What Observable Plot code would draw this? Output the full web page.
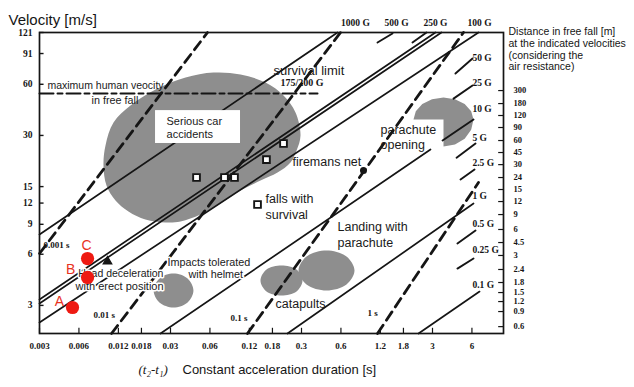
<!DOCTYPE html>
<html><head><meta charset="utf-8">
<script src="https://cdn.jsdelivr.net/npm/d3@7"></script>
<script src="https://cdn.jsdelivr.net/npm/@observablehq/plot@0.6"></script>
<style>html,body{margin:0;padding:0;background:#fff;}</style>
</head><body><div id="chart"></div>
<script>
// ---- axes ----
const xTicks = [0.003, 0.006, 0.012, 0.018, 0.03, 0.06, 0.12, 0.18, 0.3, 0.6, 1.2, 1.8, 3, 6];
const yTicks = [3, 6, 9, 12, 15, 30, 60, 91, 121];
const distLabels = ["300","180","120","90","60","45","30","24","15","12","9","6","4.5","3","2.4","1.8","1.5","1.2","0.9","0.6"];
const distVelocity = [55.1,46.2,39.3,33.4,28.0,23.8,20.2,16.96,14.42,12.25,10.27,8.39,7.03,5.90,4.88,4.09,3.57,3.16,2.76,2.25];

// ---- lines (duration s, velocity m/s) ----
const accelLines = [
  {name:"a1", t1:0.003, v1:7.84, t2:0.565, v2:121},
  {name:"a2", t1:0.003, v1:3.25, t2:3.16, v2:121},
  {name:"a3", t1:0.003, v1:3.08, t2:3.51, v2:121},
  {name:"a4", t1:0.003, v1:2.38, t2:6.73, v2:121},
  {name:"a5", t1:0.02516, v1:2.05, t2:2.896, v2:24.8},
  {name:"a6", t1:0.2345, v1:2.05, t2:6.17, v2:11.93},
  {name:"a7", t1:2.346, v1:2.05, t2:6.86, v2:3.62}
];
const leaderLines = [
  {name:"500 G", t1:1.141, v1:105.6, t2:1.485, v2:119.3},
  {name:"250 G", t1:2.11, v1:105.6, t2:2.70, v2:121},
  {name:"50 G", t1:4.49, v1:69.4, t2:6.06, v2:85.0},
  {name:"25 G", t1:4.34, v1:49.4, t2:6.06, v2:59.0},
  {name:"10 G", t1:3.58, v1:28.0, t2:6.17, v2:37.2},
  {name:"5 G", t1:4.58, v1:22.2, t2:6.39, v2:26.9},
  {name:"2.5 G", t1:4.91, v1:16.5, t2:6.28, v2:18.9},
  {name:"0.5 G", t1:4.65, v1:6.94, t2:6.39, v2:8.27},
  {name:"0.25 G", t1:4.65, v1:4.94, t2:6.17, v2:5.66}
];
const durationLines = [
  {name:"0.001 s", t1:0.003, v1:6.06, t2:0.0575, v2:121},
  {name:"0.01 s", t1:0.01064, v1:2.05, t2:0.5955, v2:121},
  {name:"0.1 s", t1:0.1161, v1:2.05, t2:5.17, v2:121},
  {name:"1 s", t1:1.141, v1:2.05, t2:6.73, v2:15.85}
];
const freeFallLimit = [{t:0.003, v:52.9}, {t:0.3975, v:52.9}];

// ---- shaded zones (outlines) ----
const carBlob = [[0.0639,70.3],[0.1027,68.5],[0.1593,61.4],[0.2187,51.5],[0.270,40.9],[0.2948,30.0],[0.275,24.45],[0.2472,20.8],[0.1968,18.15],[0.1459,16.28],[0.1027,14.22],[0.0722,11.93],[0.0508,10.27],[0.0358,9.34],[0.0275,9.22],[0.0193,9.60],[0.01433,10.7],[0.01141,12.42],[0.00974,15.2],[0.00924,19.95],[0.00957,26.2],[0.01102,35.7],[0.01485,45.0],[0.02388,56.6],[0.0391,65.7]];
const parachuteBlob = [[2.148,37.2],[2.237,41.7],[2.508,45.96],[2.974,48.97],[3.64,50.1],[4.455,48.97],[5.283,45.96],[5.92,41.7],[6.17,37.2],[5.92,32.4],[5.283,28.7],[4.455,26.5],[3.64,25.8],[3.64,37.2]];
const helmetBlob = [[0.0449,3.67],[0.0405,4.32],[0.0316,4.62],[0.0247,4.32],[0.0223,3.67],[0.0247,3.12],[0.0316,2.915],[0.0405,3.12]];
const catapultBlobA = [[0.3053,4.20],[0.2748,4.88],[0.2111,5.15],[0.1622,4.88],[0.1459,4.20],[0.1622,3.62],[0.2111,3.43],[0.2748,3.62]];
const catapultBlobB = [[0.7617,4.81],[0.6616,5.82],[0.4655,6.31],[0.3276,5.82],[0.2846,4.81],[0.3276,3.98],[0.4655,3.67],[0.6616,3.98]];
const carBox = [{t1:0.02306, t2:0.1027, v1:26.9, v2:42.0}];

// ---- points ----
const fallPoints = [{t:0.0474,v:16.96},{t:0.0775,v:16.96},{t:0.0924,v:16.96},{t:0.162,v:21.6},{t:0.2187,v:26.9},{t:0.1385,v:11.77}];
const trianglePoint = [{t:0.00991, v:5.44}];
const netPoint = [{t:0.892, v:18.65}];
const subjects = [{name:"A", t:0.00536, v:2.915, lt:0.00426, lv:3.16},{name:"B", t:0.00698, v:4.38, lt:0.00518, lv:4.88},{name:"C", t:0.00698, v:5.66, lt:0.00687, lv:6.75}];

// ---- labels ----
const zoneLabels = [
  {text:"maximum human veocity", t:0.00345, v:59.0, size:10.5},
  {text:"in free fall", t:0.00748, v:48.1, size:10.8},
  {text:"survival limit", t:0.1834, v:72.2, size:13},
  {text:"Serious car", t:0.02797, v:36.2, size:11},
  {text:"accidents", t:0.02797, v:30.4, size:11},
  {text:"parachute", t:1.203, v:32.5, size:12.5},
  {text:"opening", t:1.203, v:26.5, size:12.5},
  {text:"firemans net", t:0.2561, v:21.05, size:12.5},
  {text:"falls with", t:0.1593, v:12.76, size:12.5},
  {text:"survival", t:0.1593, v:10.27, size:12.5},
  {text:"Landing with", t:0.565, v:8.62, size:12.5},
  {text:"parachute", t:0.565, v:7.03, size:12.5},
  {text:"catapults", t:0.19, v:3.04, size:12.5}
];
const haloLabels = [
  {text:"Impacts tolerated", t:0.02846, v:5.36, size:10.8},
  {text:"with helmet", t:0.04117, v:4.56, size:10.8},
  {text:"Head deceleration", t:0.00592, v:4.62, size:10.5},
  {text:"with erect position", t:0.00565, v:3.875, size:11}
];
const durationLabels = [
  {text:"0.001 s", t:0.00322, v:6.75},
  {text:"0.01 s", t:0.00775, v:2.62},
  {text:"0.1 s", t:0.0861, v:2.51},
  {text:"1 s", t:0.957, v:2.69}
];
const accelLabels = [
  {text:"50 G", v:86.2},{text:"25 G", v:61.4},{text:"10 G", v:43.2},{text:"5 G", v:29.15},
  {text:"2.5 G", v:20.8},{text:"1 G", v:13.29},{text:"0.5 G", v:9.10},{text:"0.25 G", v:6.40},{text:"0.1 G", v:3.98}
];
const topAccelLabels = [
  {text:"1000 G", t:0.775},{text:"500 G", t:1.594},{text:"250 G", t:3.16},{text:"100 G", t:6.86}
];
const survivalLabel = [{text:"175/200 G", t:0.2074, v:61.4}];

function seg(list) {
  return list.flatMap(d => [{name:d.name, t:d.t1, v:d.v1}, {name:d.name, t:d.t2, v:d.v2}]);
}
const distData = distLabels.map((label, i) => ({label, v: distVelocity[i]}));

const SERIF = "'Liberation Serif', 'Times New Roman', serif";
const SANS = "'Liberation Sans', Arial, sans-serif";
const INK = "#151515";
const BLOB = "#8e8e8e";

const chart = Plot.plot({
  width: 634, height: 387,
  marginLeft: 39, marginRight: 131, marginTop: 32, marginBottom: 54,
  style: {fontFamily: SANS, background: "#fff", color: INK},
  x: {type: "log", domain: [0.003, 10.45], axis: null},
  y: {type: "log", domain: [2.05, 121], axis: null},
  marks: [
    // shaded zones
    Plot.line(carBlob, {x: d => d[0], y: d => d[1], curve: "catmull-rom-closed", fill: BLOB, stroke: "none"}),
    Plot.line(parachuteBlob, {x: d => d[0], y: d => d[1], curve: "linear-closed", fill: BLOB, stroke: "none"}),
    Plot.line(helmetBlob, {x: d => d[0], y: d => d[1], curve: "catmull-rom-closed", fill: BLOB, stroke: "none"}),
    Plot.line(catapultBlobA, {x: d => d[0], y: d => d[1], curve: "catmull-rom-closed", fill: BLOB, stroke: "none"}),
    Plot.line(catapultBlobB, {x: d => d[0], y: d => d[1], curve: "catmull-rom-closed", fill: BLOB, stroke: "none"}),
    // lines
    Plot.line(seg(accelLines), {x: "t", y: "v", z: "name", stroke: INK, strokeWidth: 1.7}),
    Plot.line(seg(leaderLines), {x: "t", y: "v", z: "name", stroke: INK, strokeWidth: 1.9}),
    Plot.line(seg(durationLines), {x: "t", y: "v", z: "name", stroke: INK, strokeWidth: 2.8, strokeDasharray: "10,6"}),
    Plot.line(freeFallLimit, {x: "t", y: "v", stroke: INK, strokeWidth: 2, strokeDasharray: "14,4,5,4"}),
    // white label box
    Plot.rect(carBox, {x1: "t1", x2: "t2", y1: "v1", y2: "v2", fill: "#fff"}),
    // frame, ticks, tick labels
    Plot.frame({stroke: INK, strokeWidth: 1.7}),
    Plot.ruleY(yTicks, {y: d => d, x1: () => 0.003, x2: () => 0.00325, stroke: INK, strokeWidth: 1.4}),
    Plot.ruleX(xTicks, {x: d => d, y1: () => 2.05, y2: () => 2.2, stroke: INK, strokeWidth: 1.2}),
    Plot.ruleY(distVelocity, {y: d => d, x1: () => 9.6, x2: () => 10.45, stroke: INK, strokeWidth: 1.2}),
    Plot.text(xTicks, {x: d => d, frameAnchor: "bottom", text: d => String(d), dy: 15, fontSize: 9, fontFamily: SERIF, fontWeight: "bold"}),
    Plot.text(yTicks, {y: d => d, frameAnchor: "left", text: d => String(d), dx: -7, textAnchor: "end", fontSize: 9.5, fontFamily: SERIF, fontWeight: "bold"}),
    Plot.text(distData, {frameAnchor: "right", y: "v", text: "label", dx: 10, textAnchor: "start", fontSize: 8.5, fontFamily: SERIF, fontWeight: "bold"}),
    // points
    Plot.dot(fallPoints, {x: "t", y: "v", symbol: "square", r: 3.8, stroke: INK, strokeWidth: 1.9, fill: "#fff"}),
    Plot.dot(trianglePoint, {x: "t", y: "v", symbol: "triangle", r: 3.2, stroke: INK, strokeWidth: 1.2, fill: INK}),
    Plot.dot(netPoint, {x: "t", y: "v", r: 3.5, fill: INK, stroke: "none"}),
    // labels
    Plot.text(zoneLabels, {x: "t", y: "v", text: "text", fontSize: d => d.size, textAnchor: "start", fill: "#1a1a1a"}),
    Plot.text(haloLabels, {x: "t", y: "v", text: "text", fontSize: d => d.size, textAnchor: "start", fill: "#1a1a1a", stroke: "#fff", strokeWidth: 3}),
    Plot.text(survivalLabel, {x: "t", y: "v", text: "text", fontSize: 10, textAnchor: "start", fontFamily: SERIF, fontWeight: "bold"}),
    Plot.text(durationLabels, {x: "t", y: "v", text: "text", fontSize: 9, textAnchor: "start", fontFamily: SERIF, fontWeight: "bold"}),
    Plot.text(accelLabels, {x: () => 6.06, y: "v", text: "text", fontSize: 9.5, textAnchor: "start", fontFamily: SERIF, fontWeight: "bold"}),
    Plot.text(topAccelLabels, {x: "t", y: () => 138.4, text: "text", fontSize: 9.5, fontFamily: SERIF, fontWeight: "bold"}),
    // subjects A, B, C
    Plot.dot(subjects, {x: "t", y: "v", r: 6.6, fill: "#ee1a12", stroke: "none"}),
    Plot.text(subjects, {x: "lt", y: "lv", text: "name", fontSize: 14, fill: "#e8321e"}),
    // titles
    Plot.text(["Velocity [m/s]"], {frameAnchor: "top-left", text: d => d, dx: -31, dy: -18, textAnchor: "start", fontSize: 15}),
    Plot.text(["Distance in free fall [m]\nat the indicated velocities\n(considering the\nair resistance)"], {frameAnchor: "top-right", text: d => d, dx: 5, dy: -5.5, textAnchor: "start", lineAnchor: "top", fontSize: 10.5, lineHeight: 1.11}),
    Plot.text(["(t\u2082-t\u2081)"], {frameAnchor: "bottom-left", text: d => d, dx: 99, dy: 40, textAnchor: "start", fontSize: 13, fontFamily: SERIF, fontStyle: "italic"}),
    Plot.text(["Constant acceleration duration [s]"], {frameAnchor: "bottom-left", text: d => d, dx: 143, dy: 40, textAnchor: "start", fontSize: 13})
  ]
});
document.getElementById("chart").append(chart);
</script>
</body></html>
